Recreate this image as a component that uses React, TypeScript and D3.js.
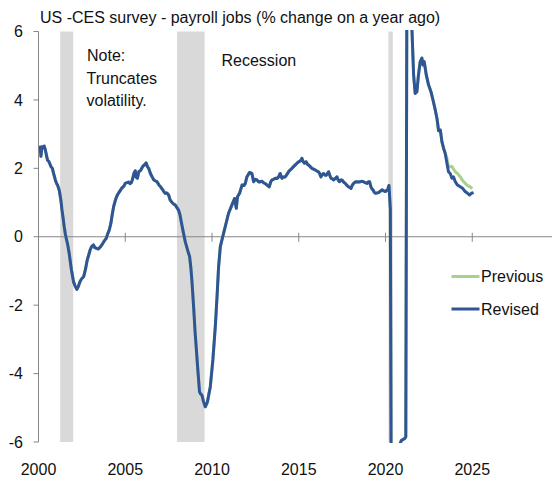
import React from "react";
import * as d3 from "d3";

const W = 552;
const H = 477;

const title = "US -CES survey - payroll jobs (% change on a year ago)";
const yTicks = [-6, -4, -2, 0, 2, 4, 6];
const xTicks = [2000, 2005, 2010, 2015, 2020, 2025];
const recessions: [number, number][] = [
  [2001.25, 2002.0],
  [2007.98, 2009.57],
  [2020.17, 2020.42],
];
const noteLines = ["Note:", "Truncates", "volatility."];
const seriesNames = ["Previous", "Revised"];

// Revised series: [year, % change y/y]
const revised2000s: [number, number][] = [
  [2000.04, 2.55], [2000.1, 2.62], [2000.14, 2.35], [2000.2, 2.63], [2000.26, 2.6], [2000.33, 2.65],
  [2000.39, 2.55], [2000.45, 2.4], [2000.52, 2.24], [2000.6, 2.2], [2000.64, 2.15], [2000.72, 2.05],
  [2000.8, 2.0], [2000.87, 1.85], [2000.97, 1.66], [2001.05, 1.55], [2001.1, 1.51], [2001.2, 1.35],
  [2001.29, 1.07], [2001.35, 0.8], [2001.41, 0.58], [2001.48, 0.3], [2001.54, 0.1], [2001.6, -0.05],
  [2001.67, -0.2], [2001.77, -0.49], [2001.9, -0.97], [2002.02, -1.32], [2002.12, -1.45], [2002.21, -1.54],
  [2002.3, -1.45], [2002.4, -1.3], [2002.5, -1.22], [2002.6, -1.17], [2002.7, -0.97], [2002.8, -0.7],
  [2002.89, -0.54], [2002.98, -0.38], [2003.06, -0.29], [2003.17, -0.24], [2003.25, -0.32], [2003.35, -0.34],
  [2003.45, -0.36], [2003.56, -0.3], [2003.7, -0.2], [2003.82, -0.1], [2003.9, -0.05], [2004.0, 0.1],
  [2004.08, 0.2], [2004.17, 0.39], [2004.25, 0.65], [2004.33, 0.88], [2004.42, 1.05], [2004.5, 1.17],
  [2004.58, 1.25], [2004.67, 1.32], [2004.8, 1.42], [2004.92, 1.48], [2005.0, 1.56], [2005.1, 1.58],
  [2005.19, 1.6], [2005.28, 1.55], [2005.35, 1.58], [2005.42, 1.68], [2005.5, 1.85], [2005.58, 1.93],
  [2005.62, 1.75], [2005.7, 1.71], [2005.78, 1.9], [2005.9, 1.95], [2006.0, 2.05], [2006.1, 2.1],
  [2006.2, 2.16], [2006.28, 2.05], [2006.35, 2.0], [2006.45, 1.85], [2006.55, 1.75], [2006.65, 1.66],
  [2006.75, 1.63], [2006.83, 1.61], [2006.95, 1.51], [2007.05, 1.45], [2007.15, 1.38], [2007.22, 1.32],
  [2007.3, 1.27], [2007.4, 1.28], [2007.5, 1.22], [2007.59, 1.07], [2007.7, 1.0], [2007.8, 0.95],
  [2007.88, 0.93], [2007.98, 0.85], [2008.07, 0.78], [2008.15, 0.65], [2008.21, 0.49], [2008.3, 0.25],
  [2008.36, 0.1], [2008.46, -0.15], [2008.6, -0.4], [2008.71, -0.58], [2008.78, -0.9], [2008.84, -1.27],
  [2008.94, -2.05], [2009.03, -2.82], [2009.13, -3.51], [2009.2, -4.0], [2009.28, -4.53], [2009.35, -4.6],
  [2009.42, -4.63], [2009.51, -4.82], [2009.61, -4.97], [2009.68, -4.9], [2009.74, -4.82], [2009.82, -4.6],
  [2009.9, -4.39],
];

const revised2010s: [number, number][] = [
  [2010.05, -3.6], [2010.19, -2.63], [2010.29, -1.75], [2010.38, -0.88], [2010.48, -0.29], [2010.57, -0.1],
  [2010.76, 0.29], [2010.95, 0.68], [2011.15, 0.93], [2011.3, 1.12], [2011.4, 0.83], [2011.47, 1.17],
  [2011.59, 1.27], [2011.73, 1.51], [2011.85, 1.5], [2011.92, 1.56], [2012.01, 1.75], [2012.16, 1.88],
  [2012.3, 1.85], [2012.4, 1.61], [2012.5, 1.68], [2012.59, 1.66], [2012.7, 1.6], [2012.78, 1.61],
  [2012.88, 1.62], [2012.97, 1.58], [2013.08, 1.55], [2013.17, 1.51], [2013.3, 1.46], [2013.38, 1.6],
  [2013.46, 1.66], [2013.55, 1.68], [2013.65, 1.71], [2013.75, 1.7], [2013.84, 1.75], [2013.93, 1.85],
  [2014.03, 1.71], [2014.12, 1.75], [2014.22, 1.75], [2014.32, 1.82], [2014.41, 1.9], [2014.5, 1.95],
  [2014.61, 2.0], [2014.7, 2.05], [2014.8, 2.1], [2014.9, 2.15], [2014.99, 2.19], [2015.1, 2.22],
  [2015.18, 2.29], [2015.25, 2.2], [2015.32, 2.15], [2015.43, 2.19], [2015.5, 2.12], [2015.56, 2.1],
  [2015.66, 2.05], [2015.76, 2.0], [2015.85, 1.98], [2015.95, 1.95], [2016.05, 1.92], [2016.14, 1.9],
  [2016.2, 1.85], [2016.28, 1.75], [2016.35, 1.82], [2016.43, 1.85], [2016.52, 1.8], [2016.59, 1.8],
  [2016.66, 1.85], [2016.72, 1.9], [2016.8, 1.78], [2016.86, 1.71], [2016.93, 1.7], [2017.01, 1.66],
  [2017.1, 1.7], [2017.2, 1.75], [2017.28, 1.65], [2017.35, 1.61], [2017.42, 1.66], [2017.49, 1.66],
  [2017.58, 1.6], [2017.68, 1.56], [2017.78, 1.5], [2017.87, 1.46], [2017.95, 1.44], [2018.01, 1.41],
  [2018.08, 1.5], [2018.16, 1.56], [2018.25, 1.6], [2018.35, 1.61], [2018.45, 1.6], [2018.55, 1.61],
  [2018.65, 1.62], [2018.73, 1.61], [2018.83, 1.58], [2018.93, 1.56], [2019.0, 1.6], [2019.08, 1.61],
  [2019.16, 1.46], [2019.22, 1.4], [2019.28, 1.37], [2019.35, 1.3], [2019.41, 1.27], [2019.5, 1.28],
  [2019.6, 1.29], [2019.7, 1.33], [2019.8, 1.37], [2019.9, 1.34], [2019.99, 1.32], [2020.05, 1.35],
  [2020.12, 1.37], [2020.2, 1.5],
];

const revised2020s: [number, number][] = [
  [2020.28, 0.8], [2020.36, -13.0], [2020.44, -11.5], [2020.52, -9.0], [2020.6, -7.8], [2020.68, -7.0],
  [2020.76, -6.3], [2020.84, -6.05], [2020.92, -5.95], [2021.0, -5.93], [2021.1, -5.9], [2021.17, -5.85],
  [2021.25, 11.0], [2021.33, 10.0], [2021.42, 7.8], [2021.5, 6.4], [2021.62, 4.73], [2021.71, 4.19],
  [2021.81, 4.24], [2021.9, 4.73], [2022.0, 5.12], [2022.1, 5.22], [2022.16, 5.02], [2022.23, 5.12],
  [2022.35, 4.73], [2022.48, 4.44], [2022.62, 4.24], [2022.74, 3.99], [2022.87, 3.7], [2022.97, 3.45],
  [2023.06, 3.1], [2023.16, 3.12], [2023.25, 2.78], [2023.35, 2.58], [2023.44, 2.44], [2023.54, 2.15],
  [2023.63, 1.9], [2023.73, 1.85], [2023.83, 1.71], [2023.92, 1.75], [2024.02, 1.61], [2024.15, 1.51],
  [2024.31, 1.46], [2024.46, 1.41], [2024.59, 1.32], [2024.73, 1.27], [2024.85, 1.22], [2024.95, 1.27],
  [2025.08, 1.29],
];

// Previous vintage where it differs from revised
const previousTail: [number, number][] = [
  [2023.44, 2.44], [2023.54, 2.3], [2023.63, 2.05], [2023.73, 2.05], [2023.83, 2.05], [2023.92, 1.98],
  [2024.02, 1.9], [2024.15, 1.85], [2024.31, 1.75], [2024.4, 1.68], [2024.5, 1.61], [2024.6, 1.56],
  [2024.69, 1.51], [2024.8, 1.48], [2024.88, 1.46], [2025.0, 1.41],
];

const FONT = "'Liberation Sans', Arial, sans-serif";
const TEXT = "#111";
const AXIS = "#868686";
const BLUE = "#2f5597";
const GREEN = "#a9d18e";
const BAND = "#d9d9d9";

export default function App() {
  const x = d3.scaleLinear().domain([2000, 2030]).range([38.5, 38.5 + 30 * 17.35]);
  const y = d3.scaleLinear().domain([-6, 6]).range([442, 31.5]);

  const revised = [...revised2000s, ...revised2010s, ...revised2020s];
  const previous = [...revised.filter((d) => d[0] < previousTail[0][0]), ...previousTail];

  const line = d3
    .line<[number, number]>()
    .x((d) => x(d[0]))
    .y((d) => y(d[1]));

  const x0 = x(2000);
  const plotTop = y(6);
  const plotBottom = y(-6);

  return (
    <svg
      width={W}
      height={H}
      style={{ position: "absolute", left: 0, top: 0, background: "#fff" }}
      fontFamily={FONT}
    >
      <defs>
        <clipPath id="plotClip">
          <rect x={x0} y={plotTop - 1.5} width={W - x0} height={plotBottom - plotTop + 2.5} />
        </clipPath>
      </defs>

      {recessions.map(([a, b], i) => (
        <rect key={i} x={x(a)} y={plotTop} width={x(b) - x(a)} height={plotBottom - plotTop} fill={BAND} />
      ))}

      {/* x axis at zero */}
      <line x1={x0} x2={W} y1={y(0)} y2={y(0)} stroke={AXIS} strokeWidth={1} />
      {xTicks.slice(1).map((t) => (
        <line key={t} x1={x(t)} x2={x(t)} y1={y(0) - 4} y2={y(0) + 5} stroke={AXIS} strokeWidth={1} />
      ))}

      {/* y axis */}
      <line x1={x0} x2={x0} y1={plotTop} y2={plotBottom} stroke={AXIS} strokeWidth={1} />
      {yTicks.map((t) => (
        <g key={t}>
          <line x1={x0 - 5} x2={x0} y1={y(t)} y2={y(t)} stroke={AXIS} strokeWidth={1} />
          <text x={23} y={y(t)} dy="0.35em" textAnchor="end" fontSize={16} fill={TEXT}>
            {t}
          </text>
        </g>
      ))}

      {xTicks.map((t) => (
        <text key={t} x={x(t)} y={475} textAnchor="middle" fontSize={16} fill={TEXT}>
          {t}
        </text>
      ))}

      <g clipPath="url(#plotClip)">
        <path d={line(previous) || ""} fill="none" stroke={GREEN} strokeWidth={3} strokeLinejoin="round" />
        <path d={line(revised) || ""} fill="none" stroke={BLUE} strokeWidth={3} strokeLinejoin="round" />
      </g>

      <text x={40} y={23} fontSize={16} fill={TEXT}>
        {title}
      </text>

      {noteLines.map((s, i) => (
        <text key={s} x={i === 0 ? 87 : 86.5} y={61 + i * 22.5} fontSize={16} fill={TEXT}>
          {s}
        </text>
      ))}
      <text x={221.5} y={65.5} fontSize={16} fill={TEXT}>
        Recession
      </text>

      {/* legend */}
      {seriesNames.map((s, i) => (
        <g key={s}>
          <line x1={451.5} x2={479.5} y1={276.5 + i * 32.5} y2={276.5 + i * 32.5} stroke={i === 0 ? GREEN : BLUE} strokeWidth={3} />
          <text x={481} y={276.5 + i * 32.5} dy="0.35em" fontSize={16} fill={TEXT}>
            {s}
          </text>
        </g>
      ))}
    </svg>
  );
}
